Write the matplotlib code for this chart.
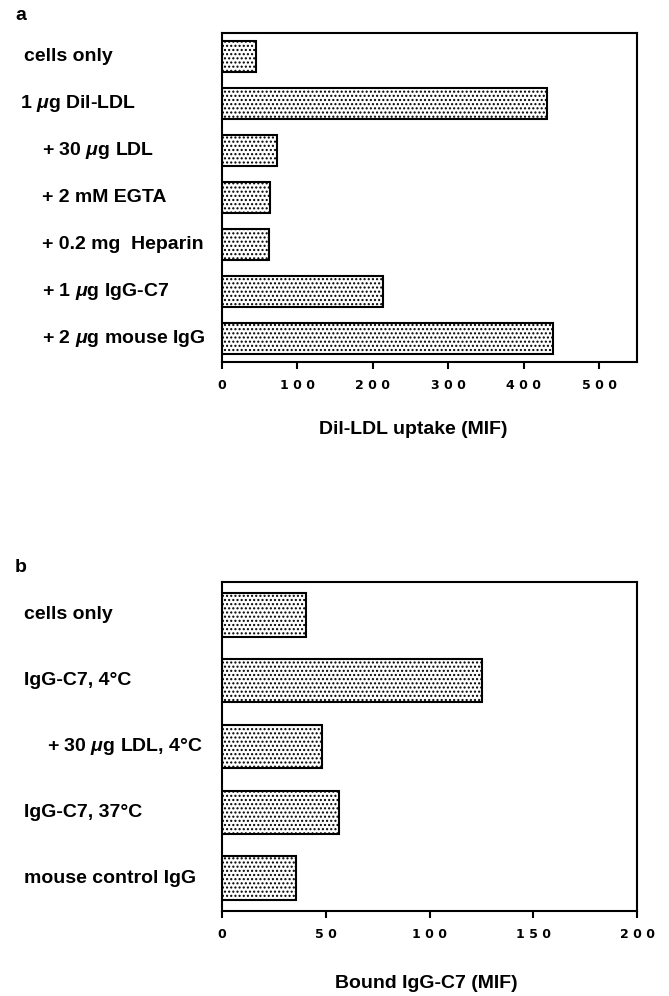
import numpy as np
import matplotlib
matplotlib.use("Agg")
import matplotlib.pyplot as plt
from matplotlib.transforms import blended_transform_factory

plt.rcParams['font.family'] = ['Liberation Sans', 'DejaVu Sans']
plt.rcParams['font.weight'] = 'bold'
plt.rcParams['mathtext.fontset'] = 'custom'
plt.rcParams['mathtext.rm'] = 'Liberation Sans:bold'
plt.rcParams['mathtext.it'] = 'Liberation Sans:italic:bold'
plt.rcParams['hatch.linewidth'] = 1.0
plt.rcParams['hatch.color'] = 'black'

# panel a
labels_a = ["cells only", r"1 $\mu$g Dil-LDL", r"+ 30 $\mu$g LDL", "+ 2 mM EGTA",
            "+ 0.2 mg  Heparin", r"+ 1 $\mu$g IgG-C7", r"+ 2 $\mu$g mouse IgG"]
values_a = [45, 431, 73, 64, 62, 214, 439]
ticks_a = [0, 100, 200, 300, 400, 500]
ticklabels_a = ["0", "1 0 0", "2 0 0", "3 0 0", "4 0 0", "5 0 0"]
xlabel_a = "Dil-LDL uptake (MIF)"

# panel b
labels_b = ["cells only", "IgG-C7, 4°C", r"+ 30 $\mu$g LDL, 4°C", "IgG-C7, 37°C",
            "mouse control IgG"]
values_b = [40.5, 125.5, 48, 56.5, 35.5]
ticks_b = [0, 50, 100, 150, 200]
ticklabels_b = ["0", "5 0", "1 0 0", "1 5 0", "2 0 0"]
xlabel_b = "Bound IgG-C7 (MIF)"

W, H = 669, 996
fig = plt.figure(figsize=(W / 100, H / 100), dpi=100)


def panel(rect, labels, values, ticks, ticklabels, xmax, label_x, xlabel, xlabel_pos, letter_pos, letter):
    ax = fig.add_axes(rect)
    y = np.arange(len(values))
    ax.barh(y, values, height=0.66, color='white', edgecolor='black',
            linewidth=1.5, hatch='....')
    ax.set_ylim(len(values) - 0.5, -0.5)
    ax.set_xlim(0, xmax)
    ax.set_yticks([])
    ax.set_xticks(ticks)
    ax.set_xticklabels(ticklabels, family='DejaVu Sans', fontsize=9, fontweight='bold')
    ax.tick_params(axis='x', direction='out', length=5, width=1.5, pad=7)
    for s in ax.spines.values():
        s.set_linewidth(1.5)
    tr = blended_transform_factory(fig.transFigure, ax.transData)
    for yi, lab, lx in zip(y, labels, label_x):
        ax.text(lx / W, yi, lab, transform=tr, ha='left', va='center',
                fontsize=14, fontweight='bold')
    fig.text(xlabel_pos[0] / W, 1 - xlabel_pos[1] / H, xlabel, ha='center', va='center',
             fontsize=14, fontweight='bold')
    fig.text(letter_pos[0] / W, 1 - letter_pos[1] / H, letter, ha='left', va='center',
             fontsize=14, fontweight='bold')
    return ax


left = 222 / W
width = (637 - 222) / W
h = 329 / H

panel([left, 1 - 362 / H, width, h], labels_a, values_a, ticks_a, ticklabels_a, 550,
      [24, 20, 42, 42, 42, 42, 42], xlabel_a, (413, 429), (15, 15), "a")
panel([left, 1 - 911 / H, width, h], labels_b, values_b, ticks_b, ticklabels_b, 200,
      [24, 24, 47, 24, 24], xlabel_b, (426, 983), (15, 567), "b")

fig.savefig("out.png", dpi=100)
